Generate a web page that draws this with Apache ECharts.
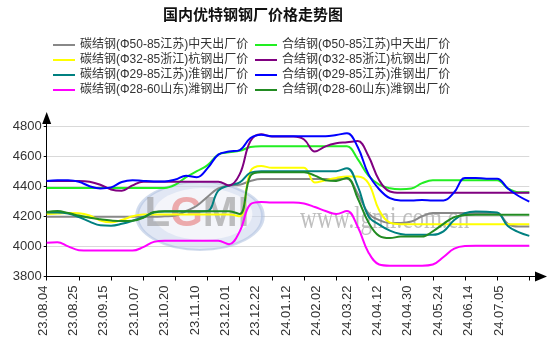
<!DOCTYPE html>
<html><head><meta charset="utf-8">
<script src="https://cdn.jsdelivr.net/npm/echarts@6/dist/echarts.min.js"></script>
<style>html,body{margin:0;padding:0;background:#fff}#c{width:554px;height:355px}</style>
</head><body><div id="c"></div>
<script>
// hidden weekly categories of the data axis
const weeks = ['23.08.04','23.08.11','23.08.18','23.08.25','23.09.01','23.09.08','23.09.15','23.09.22','23.09.28','23.10.07',
  '23.10.20','23.10.27','23.11.03','23.11.10','23.11.17','23.11.24','23.12.01','23.12.08','23.12.15','23.12.22',
  '23.12.29','24.01.05','24.01.12','24.01.19','24.01.26','24.02.02','24.03.01','24.03.08','24.03.15','24.03.22',
  '24.03.29','24.04.12','24.04.19','24.04.26','24.04.30','24.05.10','24.05.17','24.05.24','24.05.31','24.06.07',
  '24.06.14','24.06.21','24.06.28','24.07.05','24.07.12','24.07.19'];
// visible tick labels
const dateLabels = ['23.08.04','23.08.25','23.09.15','23.10.07','23.10.20','23.11.10','23.12.01','23.12.22',
  '24.01.12','24.02.02','24.03.22','24.04.12','24.04.30','24.05.24','24.06.14','24.07.05'];
const yTicks = {min: 3800, max: 4800, step: 200};

const nameGray = '碳结钢(Φ50-85江苏)中天出厂价';
const nameYellow = '碳结钢(Φ32-85浙江)杭钢出厂价';
const nameTeal = '碳结钢(Φ29-85江苏)淮钢出厂价';
const nameMagenta = '碳结钢(Φ28-60山东)潍钢出厂价';
const nameLime = '合结钢(Φ50-85江苏)中天出厂价';
const namePurple = '合结钢(Φ32-85浙江)杭钢出厂价';
const nameBlue = '合结钢(Φ29-85江苏)淮钢出厂价';
const nameDkGreen = '合结钢(Φ28-60山东)潍钢出厂价';

const grayData = [4197,4197,4197,4197,4197,4197,4197,4197,4197,4197,4197,4200,
  4205,4235,4270,4330,4385,4405,4410,4435,
  4448,4448,4448,4448,4448,4448,4448,4448,
  4450,4350,4220,4175,4155,4155,4165,4200,4222,4222,4222,4222,4222,4222,4222,4150,4132,4132];
const limeData = [4388,4388,4388,4388,4388,4388,4388,4388,4388,4388,4388,4388,
  4410,4460,4500,4540,4610,4625,4635,4660,
  4665,4665,4665,4665,4665,4665,4665,4665,4665,
  4580,4470,4410,4386,4380,4385,4420,4440,4440,4440,4440,4440,4440,4440,4385,4360,4360];
const yellowData = [4215,4218,4222,4220,4205,4172,4160,4175,4200,4212,
  4212,4212,4212,4212,4212,4212,4212,4212,
  4200,4500,4535,4522,4522,4522,4522,
  4425,4440,4455,4465,4465,4420,4240,4158,
  4148,4148,4148,4148,4148,4148,4148,4148,4148,4148,4148,4148,4148];
const purpleData = [4435,4435,4435,4435,4430,4410,4378,4370,4405,4430,
  4430,4430,4430,4430,4430,4430,4430,
  4405,4480,4700,4745,4730,4730,4730,
  4710,4630,4665,4685,4692,4700,4600,4440,4365,
  4356,4356,4356,4356,4356,4356,4356,4356,4356,4356,4356,4356,4356];
const tealData = [4225,4225,4218,4195,4165,4140,4138,4150,4170,4195,4225,
  4232,4232,4232,4232,4235,
  4370,4405,4425,4490,
  4500,4500,4500,4500,4500,4500,4500,4500,
  4520,4400,4200,4145,4105,4083,4077,4077,4077,4100,4175,4220,4232,4230,4225,4135,4095,4070];
const blueData = [4435,4440,4440,4430,4400,4385,4392,4428,4440,4435,4432,4432,4445,4470,4460,4520,4610,4630,4640,4720,4742,
  4732,4732,4732,4732,4732,4732,
  4740,4752,4660,4480,4380,4320,4305,4305,4308,4305,4305,4360,4455,4455,4450,4450,4385,4335,4298];
const magentaData = [4025,4028,4000,3975,3972,3972,3972,3972,3972,3995,4030,
  4037,4037,4037,4037,4037,4037,
  4015,4100,4280,4295,4292,4292,4292,
  4285,4262,4235,4215,4235,4130,3960,3880,3872,
  3872,3872,3872,3880,3930,3985,4003,
  4005,4005,4005,4005,4005,4005];
const dkGreenData = [4228,4235,4222,4205,4190,4180,4172,4168,4170,4190,4228,
  4234,4234,4234,4234,4234,4234,4234,
  4215,4470,4493,4493,4493,4493,4493,
  4470,4440,4435,4455,4320,4160,4070,4055,
  4065,4065,4065,4100,4150,4195,4208,
  4210,4210,4210,4210,4210,4210];

const FONT = '"Liberation Sans", Arial, "Noto Sans CJK SC", sans-serif';
const chart = echarts.init(document.getElementById('c'), null, {renderer: 'canvas'});

function mk(name, data, color) {
  return {name, type: 'line', data, xAxisIndex: 0, yAxisIndex: 0, smooth: 0.4,
    showSymbol: false, symbol: 'none', lineStyle: {color, width: 2}, itemStyle: {color}, z: 3};
}
const legendBase = {orient: 'vertical', padding: 0, itemGap: 0, itemWidth: 22, itemHeight: 2, icon: 'rect',
  textStyle: {fontSize: 12, lineHeight: 15, color: '#333', fontFamily: FONT}};

chart.setOption({
  animation: false,
  backgroundColor: '#fff',
  title: {text: '国内优特钢钢厂价格走势图', left: 163, top: 7, padding: 0,
    textStyle: {fontSize: 15, fontWeight: 'bold', color: '#111', fontFamily: '"Noto Sans CJK SC", sans-serif'}},
  legend: [
    Object.assign({data: [nameGray, nameYellow, nameTeal, nameMagenta], left: 53, top: 37.5}, legendBase),
    Object.assign({data: [nameLime, namePurple, nameBlue, nameDkGreen], left: 255, top: 37.5}, legendBase)
  ],
  graphic: [
    {type: 'circle', x: 200, y: 216, scaleX: 1.85, z: 1, shape: {cx: 0, cy: 0, r: 34},
      style: {fill: 'rgba(200,212,235,0.55)', stroke: 'rgba(165,185,220,0.5)', lineWidth: 2}},
    {type: 'circle', x: 203, y: 214, scaleX: 1.9, z: 1, shape: {cx: 0, cy: 0, r: 26},
      style: {fill: 'rgba(250,250,252,0.75)'}},
    {type: 'text', x: 197, y: 214, z: 1, style: {text: '{a|L}{b|G}{a|MI}', align: 'center', verticalAlign: 'middle',
      rich: {a: {font: 'bold 42px "Liberation Sans"', fill: 'rgba(150,150,150,0.6)'},
             b: {font: 'bold 42px "Liberation Sans"', fill: 'rgba(230,120,120,0.6)'}}}},
    {type: 'text', x: 300, y: 220, z: 1, scaleX: 0.72, style: {text: 'www.lgmi.com.cn', font: '32px "Liberation Serif"',
      fill: 'rgba(175,175,175,0.8)', verticalAlign: 'middle'}}
  ],
  grid: [
    {left: 46.7, right: 24.7, top: 126, bottom: 78.5},
    {left: 43, right: 55, top: 126, bottom: 78.5},
    {left: 46.7, right: 13, top: 118, bottom: 78.5}
  ],
  xAxis: [
    {type: 'category', gridIndex: 0, data: weeks, boundaryGap: false,
      axisLine: {show: false}, axisLabel: {show: false},
      axisTick: {show: true, interval: 2, length: 4, lineStyle: {color: '#000'}}, splitLine: {show: false}},
    {type: 'category', gridIndex: 1, data: dateLabels, boundaryGap: false,
      axisLine: {show: false}, axisTick: {show: false}, splitLine: {show: false},
      axisLabel: {interval: 0, rotate: 90, margin: 9, fontSize: 13, color: '#333', fontFamily: FONT}},
    {type: 'value', gridIndex: 2, min: 0, max: 1, axisLine: {show: true, onZero: false, symbol: ['none', 'triangle'],
      symbolSize: [10, 12], lineStyle: {color: '#000', width: 1}},
      axisTick: {show: false}, axisLabel: {show: false}, splitLine: {show: false}}
  ],
  yAxis: [
    {type: 'value', gridIndex: 0, min: yTicks.min, max: yTicks.max, interval: yTicks.step,
      axisLine: {show: false}, axisTick: {show: true, length: 3, lineStyle: {color: '#000'}},
      axisLabel: {fontSize: 13, color: '#333', margin: 5, fontFamily: FONT, formatter: v => String(v)},
      splitLine: {show: true, lineStyle: {color: '#d9d9d9', width: 1}}},
    {type: 'value', gridIndex: 1, show: false},
    {type: 'value', gridIndex: 2, min: 0, max: 1, axisLine: {show: true, onZero: false, symbol: ['none', 'triangle'],
      symbolSize: [9, 12], lineStyle: {color: '#000', width: 1}},
      axisTick: {show: false}, axisLabel: {show: false}, splitLine: {show: false}}
  ],
  series: [
    mk(nameGray, grayData, '#888888'),
    mk(nameYellow, yellowData, '#ffff00'),
    mk(nameTeal, tealData, '#008080'),
    mk(nameMagenta, magentaData, '#ff00ff'),
    mk(nameLime, limeData, '#22ee22'),
    mk(namePurple, purpleData, '#800080'),
    mk(nameBlue, blueData, '#0000ff'),
    mk(nameDkGreen, dkGreenData, '#228b22')
  ]
});
</script></body></html>
